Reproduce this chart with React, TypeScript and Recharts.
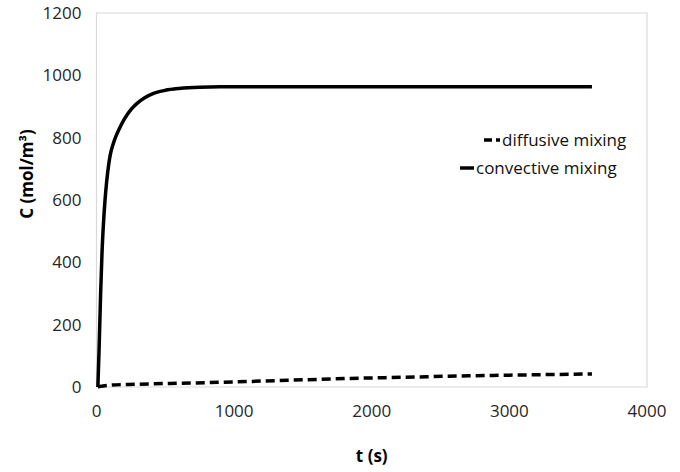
import { Label, Legend, Line, LineChart, ReferenceArea, XAxis, YAxis } from "recharts";

const convT = [10, 18, 30, 40, 50, 62, 74, 90, 100, 120, 140, 165, 200, 250, 295, 350, 415, 500, 600, 750, 900, 1500, 2500, 3600];
const convC = [0, 110, 300, 430, 520, 600, 660, 718, 745, 778, 803, 828, 858, 890, 910, 928, 942, 952, 958, 962, 963, 963, 963, 963];

const diffT = [10, 100, 300, 600, 900, 1200, 1500, 1800, 2100, 2400, 2700, 3000, 3300, 3600];
const diffC = [1, 6, 9, 12, 15, 19, 23, 27, 30, 33, 36, 38, 40, 42];

const xTicks = [0, 1000, 2000, 3000, 4000];
const yTicks = [0, 200, 400, 600, 800, 1000, 1200];

const FONT = "'Open Sans', sans-serif";

const convective = convT.map((t, i) => ({ t, c: convC[i] }));
const diffusive = diffT.map((t, i) => ({ t, c: diffC[i] }));

function LegendBox() {
  return (
    <div style={{ position: "relative", fontFamily: FONT, fontSize: 17, color: "#111" }}>
      <div style={{ position: "absolute", left: 484, top: 128, display: "flex", alignItems: "center" }}>
        <svg width={16} height={6}>
          <line x1={0} y1={3} x2={16} y2={3} stroke="#000" strokeWidth={3.5} strokeDasharray="8 4" />
        </svg>
        <span style={{ marginLeft: 2 }}>diffusive mixing</span>
      </div>
      <div style={{ position: "absolute", left: 460, top: 156, display: "flex", alignItems: "center" }}>
        <svg width={14} height={6}>
          <line x1={0} y1={3} x2={14} y2={3} stroke="#000" strokeWidth={3.5} />
        </svg>
        <span style={{ marginLeft: 2 }}>convective mixing</span>
      </div>
    </div>
  );
}

export default function App() {
  return (
    <div style={{ position: "absolute", left: 0, top: 0, background: "#fff" }}>
      <LineChart width={680} height={472} margin={{ top: 13, right: 33, left: 0, bottom: 0 }}>
        <XAxis
          type="number"
          dataKey="t"
          domain={[0, 4000]}
          ticks={xTicks}
          axisLine={false}
          tickLine={false}
          tickMargin={12}
          height={85}
          tick={{ fill: "#262626", fontSize: 17, fontFamily: FONT }}
        >
          <Label
            value="t (s)"
            position="insideBottom"
            offset={10}
            style={{ fontFamily: FONT, fontSize: 17, fontWeight: 700, fill: "#000" }}
          />
        </XAxis>
        <YAxis
          type="number"
          dataKey="c"
          domain={[0, 1200]}
          ticks={yTicks}
          axisLine={false}
          tickLine={false}
          tickMargin={9}
          width={96.5}
          tick={{ fill: "#262626", fontSize: 17, fontFamily: FONT }}
        >
          <Label
            content={() => (
              <text
                x={26}
                y={174}
                transform="rotate(-90, 26, 174)"
                textAnchor="middle"
                dominantBaseline="central"
                style={{ fontFamily: FONT, fontSize: 17, fontWeight: 700, fill: "#000" }}
              >
                C (mol/m³)
              </text>
            )}
          />
        </YAxis>
        <ReferenceArea x1={0} x2={4000} y1={0} y2={1200} fill="none" stroke="#d9d9d9" strokeWidth={1.2} />
        <Legend content={() => <LegendBox />} wrapperStyle={{ position: "absolute", left: 0, top: 0, width: 680, height: 0 }} />
        <Line
          data={diffusive}
          dataKey="c"
          type="monotone"
          stroke="#000"
          strokeWidth={3.5}
          strokeDasharray="9 5"
          dot={false}
          isAnimationActive={false}
        />
        <Line
          data={convective}
          dataKey="c"
          type="monotone"
          stroke="#000"
          strokeWidth={3.5}
          dot={false}
          isAnimationActive={false}
        />
      </LineChart>
    </div>
  );
}
